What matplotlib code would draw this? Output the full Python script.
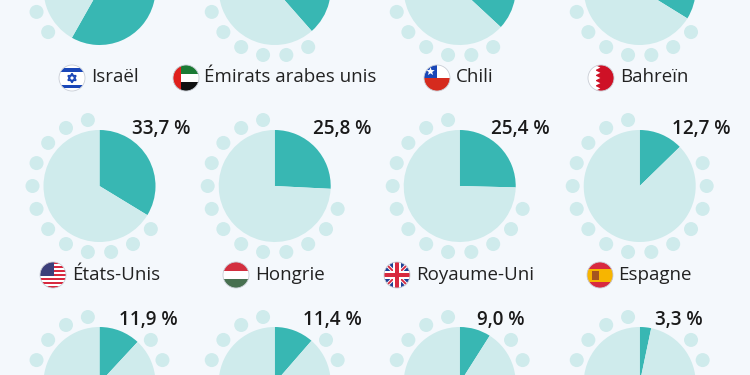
import numpy as np
import matplotlib
matplotlib.use("Agg")
import matplotlib.pyplot as plt
from matplotlib.patches import Circle, Rectangle, Polygon

plt.rcParams["font.family"] = ["Open Sans", "DejaVu Sans"]

# valeurs (rangee du haut : pas de texte visible, estimees d'apres les parts)
countries = ["Israël", "Émirats arabes unis", "Chili", "Bahreïn",
             "États-Unis", "Hongrie", "Royaume-Uni", "Espagne",
             "", "", "", ""]
shares = [58.2, 38.5, 36.9, 33.8,
          33.7, 25.8, 25.4, 12.7,
          11.9, 11.4, 9.0, 3.3]
share_labels = ["", "", "", "",
                "33,7 %", "25,8 %", "25,4 %", "12,7 %",
                "11,9 %", "11,4 %", "9,0 %", "3,3 %"]
flags = ["il", "ae", "cl", "bh", "us", "hu", "gb", "es", "", "", "", ""]

# mise en page en pixels
W, H = 750, 375
pie_x = [99.5, 274.7, 459.7, 639.7]
pie_y = [-11, 186, 383]
pie_r = 56
dot_ring = 67
dot_r = 7
dot_angles = np.arange(10, 360, 20)
label_dx = [61.5, 67.3, 60.3, 61.3]   # rangee 2
label_dx3 = [48.5, 57.3, 41.3, 39.3]  # rangee 3
label_y = [None, 129, 320]
flag_x = [72, 186, 437, 601, 53, 236, 397, 600]
name_x = [91.5, 204.5, 455.5, 620.5, 72.5, 255.5, 416.5, 618.5]
flag_y = [78, 275]
flag_r = 13

TEAL = "#38b7b3"
LIGHT = "#cfebec"
BG = "#f4f8fc"
INK = "#1a1a1a"


def Y(py):
    return H - py


def draw_flag(ax, code, cx, py):
    cy = Y(py)
    r = flag_r
    clip = Circle((cx, cy), r, transform=ax.transData)

    def rect(x0, y0, x1, y1, color):
        p = Rectangle((cx + x0 * r, cy + y0 * r), (x1 - x0) * r, (y1 - y0) * r,
                      fc=color, ec="none", zorder=5)
        ax.add_patch(p)
        p.set_clip_path(clip)

    def poly(pts, color, ec="none", lw=0):
        p = Polygon([(cx + a * r, cy + b * r) for a, b in pts], closed=True,
                    fc=color, ec=ec, lw=lw, zorder=6)
        ax.add_patch(p)
        p.set_clip_path(clip)

    rect(-1, -1, 1, 1, "white")
    if code == "il":
        rect(-1, 0.5, 1, 0.8, "#1a47b8")
        rect(-1, -0.8, 1, -0.5, "#1a47b8")
        poly([(0, 0.36), (0.31, -0.18), (-0.31, -0.18)], "none", "#1a47b8", 1.1)
        poly([(0, -0.36), (0.31, 0.18), (-0.31, 0.18)], "none", "#1a47b8", 1.1)
    elif code == "ae":
        rect(-1, 0.33, 1, 1, "#1b7a34")
        rect(-1, -1, 1, -0.33, "#111111")
        rect(-1, -1, -0.4, 1, "#e0201c")
    elif code == "cl":
        rect(-1, -1, 1, 0, "#d52b1e")
        rect(-1, 0, 0, 1, "#1a47b8")
        t = np.radians(np.arange(90, 450, 36))
        rad = np.where(np.arange(10) % 2 == 0, 0.34, 0.14)
        poly(list(zip(-0.5 + rad * np.cos(t), 0.5 + rad * np.sin(t))), "white")
    elif code == "bh":
        rect(-0.4, -1, 1, 1, "#ce1126")
        ys = np.linspace(1, -1, 11)
        xs = [-0.45 if i % 2 == 0 else -0.05 for i in range(11)]
        poly(list(zip(xs, ys)) + [(-0.6, -1), (-0.6, 1)], "white")
    elif code == "us":
        for i in range(13):
            y0 = 1 - i * 2 / 13
            rect(-1, y0 - 2 / 13, 1, y0, "#d8293f" if i % 2 == 0 else "white")
        rect(-1, -0.05, 0.05, 1, "#3c3f7a")
    elif code == "hu":
        rect(-1, 0.33, 1, 1, "#d32f3f")
        rect(-1, -1, 1, -0.33, "#477050")
    elif code == "gb":
        rect(-1, -1, 1, 1, "#1f3f95")
        w = 0.2
        for s in (1, -1):
            poly([(-1 - w, -s), (-1 + w, -s), (1 + w, s), (1 - w, s)], "white")
            poly([(-1 - w / 2, -s), (-1 + w / 2, -s), (1 + w / 2, s), (1 - w / 2, s)], "#d8293f")
        for c, e in (("white", 0.32), ("#d8293f", 0.18)):
            poly([(-1, -e), (1, -e), (1, e), (-1, e)], c)
            poly([(-e, -1), (e, -1), (e, 1), (-e, 1)], c)
    elif code == "es":
        rect(-1, -1, 1, 1, "#d8293f")
        rect(-1, -0.5, 1, 0.5, "#f7b500")
        rect(-0.6, -0.35, -0.1, 0.3, "#a5551f")
    ax.add_patch(Circle((cx, cy), r, fc="none", ec="#c9ced6", lw=0.6, zorder=7))


fig = plt.figure(figsize=(W / 100, H / 100), dpi=100, facecolor=BG)
ax = fig.add_axes([0, 0, 1, 1])
ax.set_facecolor(BG)

for i, share in enumerate(shares):
    row, col = divmod(i, 4)
    cx, py = pie_x[col], pie_y[row]
    cy = Y(py)

    ax.pie([share, 100 - share], colors=[TEAL, LIGHT], startangle=90, counterclock=False,
           center=(cx, cy), radius=pie_r, frame=True)

    # points autour du disque : seulement apres la part, et pas sous l'etiquette
    end_angle = share * 3.6
    for a in dot_angles:
        if a < 50 or a < end_angle + 5:
            continue
        t = np.radians(a)
        ax.add_patch(Circle((cx + dot_ring * np.sin(t), cy + dot_ring * np.cos(t)), dot_r,
                            fc=LIGHT, ec="none", zorder=2))

    if share_labels[i]:
        dx = label_dx[col] if row == 1 else label_dx3[col]
        ax.text(cx + dx, Y(label_y[row]), share_labels[i], fontsize=13.6, fontweight=600,
                color=INK, ha="center", va="center", zorder=8)

    if countries[i]:
        draw_flag(ax, flags[i], flag_x[i], flag_y[row])
        ax.text(name_x[i], Y(flag_y[row]) + 0.5, countries[i], fontsize=13.5, color="#222222",
                ha="left", va="center", zorder=8)

ax.set_xlim(0, W)
ax.set_ylim(0, H)
ax.set_aspect("auto")
ax.axis("off")

fig.savefig("out.png", dpi=100, facecolor=BG)
